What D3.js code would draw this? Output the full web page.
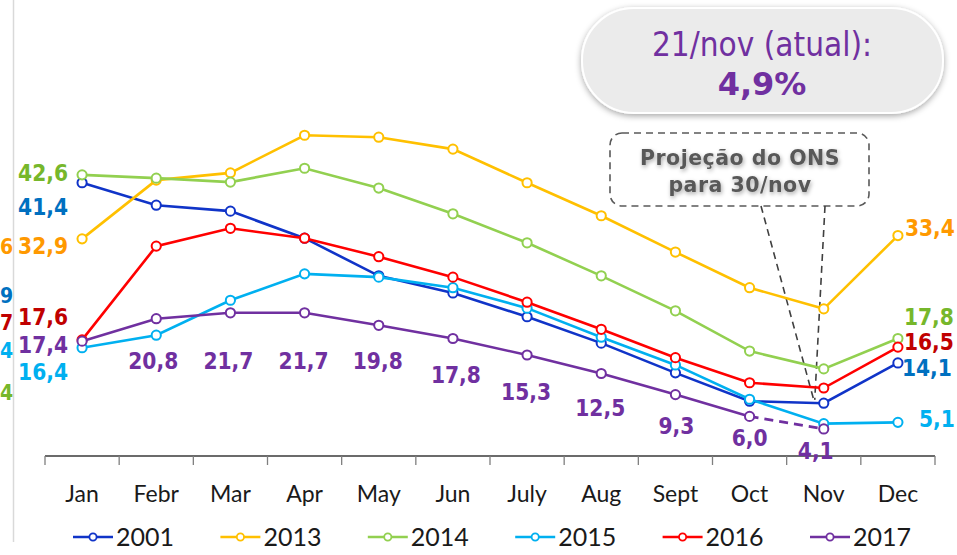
<!DOCTYPE html>
<html><head><meta charset="utf-8">
<script src="https://cdn.jsdelivr.net/npm/d3@7"></script>
<style>body{margin:0;background:#fff}svg{display:block}</style>
</head><body><svg id="c" width="957" height="555"></svg>
<script>
// ---- data ----
const months = ["Jan","Febr","Mar","Apr","May","Jun","July","Aug","Sept","Oct","Nov","Dec"];
const years = ["2001","2013","2014","2015","2016","2017"];
const v2001 = [41.4,38.0,37.1,33.0,27.3,24.7,21.1,17.1,12.6,8.3,8.0,14.1];
const v2013 = [32.9,41.8,42.9,48.6,48.3,46.5,41.4,36.4,30.9,25.5,22.3,33.4];
const v2014 = [42.6,42.1,41.5,43.6,40.6,36.7,32.3,27.3,22.0,15.9,13.2,17.8];
const v2015 = [16.4,18.3,23.6,27.6,27.1,25.5,22.4,18.0,13.8,8.6,4.9,5.1];
const v2016 = [17.6,31.8,34.5,33.0,30.2,27.1,23.3,19.2,14.9,11.1,10.3,16.5];
const v2017 = [17.4,20.8,21.7,21.7,19.8,17.8,15.3,12.5,9.3,6.0,4.1];
const currentLabel = "21/nov (atual):";
const currentValue = "4,9%";
const projectionText = ["Projeção do ONS","para 30/nov"];
const leftFragments = ["6","9","7","4","4"];

// ---- styles / layout ----
const lineColor = {"2001":"#1034c8","2013":"#ffc000","2014":"#92d050","2015":"#00b0f0","2016":"#ff0000","2017":"#7030a0"};
const labelColor = {"2001":"#0070c0","2013":"#ff9900","2014":"#76b72b","2015":"#00b0f0","2016":"#c00000","2017":"#7030a0"};
const series = {"2001":v2001,"2013":v2013,"2014":v2014,"2015":v2015,"2016":v2016,"2017":v2017};
const janDy = {"2014":-2,"2001":24,"2013":7,"2016":-23,"2017":4,"2015":24};
const decDy = {"2013":-8,"2014":-22,"2016":-5,"2001":5,"2015":-3};
const decDx = {"2013":7,"2014":6,"2016":6,"2001":4,"2015":21};
const purpleDy = [0,42,48,48,36,36,37,34,31,21,22];
const purpleDx = [0,-3,-2,-1,-1,3,-1,-1,1,0,-8];
const fragColors = ["#ff9900","#0070c0","#c00000","#00b0f0","#76b72b"];
const fragY = [246,295,322,350,392];
const labelFont = "DejaVu Sans Condensed, DejaVu Sans, Tahoma, sans-serif";

const fmt = v => d3.format(".1f")(v).replace(".", ",");
const svg = d3.select("#c");

const defs = svg.append("defs");
const sh = defs.append("filter").attr("id","sh").attr("x","-10%").attr("y","-20%").attr("width","120%").attr("height","150%");
sh.append("feDropShadow").attr("dx",0).attr("dy",2).attr("stdDeviation",3).attr("flood-color","#000").attr("flood-opacity",0.35);
const tsh = defs.append("filter").attr("id","tsh").attr("x","-10%").attr("y","-40%").attr("width","120%").attr("height","180%");
tsh.append("feDropShadow").attr("dx",1).attr("dy",2).attr("stdDeviation",2).attr("flood-color","#000").attr("flood-opacity",0.35);

const x = d3.scaleBand().domain(months).range([45,935]);
const cx = m => x(m) + x.bandwidth()/2;
const y = d3.scaleLinear().domain([0,50]).range([456,126]);

// left gray divider + fragments
svg.append("line").attr("x1",13.5).attr("x2",13.5).attr("y1",0).attr("y2",542).attr("stroke","#d9d9d9").attr("stroke-width",1.5);
svg.selectAll("text.frag").data(leftFragments).join("text").attr("class","frag")
  .attr("x",0).attr("y",(d,i)=>fragY[i]).attr("dy","0.36em").attr("text-anchor","start")
  .attr("font-family",labelFont).attr("font-stretch","condensed").attr("font-weight","bold").attr("font-size",21)
  .attr("fill",(d,i)=>fragColors[i]).text(d=>d);

// axis
const ax = svg.append("g");
ax.append("line").attr("x1",x.range()[0]).attr("x2",x.range()[1]).attr("y1",y(0)).attr("y2",y(0)).attr("stroke","#3a3a3a").attr("stroke-width",1.3);
const bounds = months.map(m=>x(m)).concat([x.range()[1]]);
ax.selectAll("line.tk").data(bounds).join("line").attr("class","tk")
  .attr("x1",d=>d).attr("x2",d=>d).attr("y1",y(0)).attr("y2",y(0)+9).attr("stroke","#7f7f7f").attr("stroke-width",1.3);
ax.selectAll("text.ml").data(months).join("text").attr("class","ml")
  .attr("x",d=>cx(d)).attr("y",502).attr("text-anchor","middle")
  .attr("font-family","Lato, Carlito, sans-serif").attr("font-size",23).attr("fill","#1a1a1a").text(d=>d);

// callouts
svg.append("rect").attr("x",582).attr("y",8).attr("width",361).attr("height",105).attr("rx",52).attr("ry",52)
  .attr("fill","#ebebeb").attr("stroke","#fff").attr("stroke-width",2).attr("filter","url(#sh)");
svg.append("text").attr("x",762).attr("y",56).attr("text-anchor","middle")
  .attr("font-family","DejaVu Sans Condensed, DejaVu Sans, sans-serif").attr("font-stretch","condensed").attr("font-size",33).attr("fill","#7030a0").text(currentLabel);
svg.append("text").attr("x",762).attr("y",95).attr("text-anchor","middle")
  .attr("font-family","DejaVu Sans, sans-serif").attr("font-weight","bold").attr("font-size",32).attr("fill","#7030a0").text(currentValue);

const box = {x0:610,x1:869,y0:133,y1:206};
const tip = [cx("Nov")-10, y(8.5)];
svg.append("rect").attr("x",box.x0).attr("y",box.y0).attr("width",box.x1-box.x0).attr("height",box.y1-box.y0).attr("rx",12)
  .attr("fill","#fff").attr("stroke","#595959").attr("stroke-width",1.6).attr("stroke-dasharray","7,5");
svg.append("line").attr("x1",761).attr("y1",box.y1).attr("x2",tip[0]).attr("y2",tip[1]).attr("stroke","#404040").attr("stroke-width",1.6).attr("stroke-dasharray","7,5");
svg.append("line").attr("x1",825).attr("y1",box.y1).attr("x2",tip[0]+1).attr("y2",tip[1]).attr("stroke","#404040").attr("stroke-width",1.6).attr("stroke-dasharray","7,5");
svg.selectAll("text.pj").data(projectionText).join("text").attr("class","pj")
  .attr("x",740).attr("y",(d,i)=>165+i*27).attr("text-anchor","middle")
  .attr("font-family","DejaVu Sans, Verdana, sans-serif").attr("font-weight","bold").attr("font-size",20.5)
  .attr("letter-spacing",0.5).attr("fill","#595959").attr("filter","url(#tsh)").text(d=>d);

// series
const line = d3.line().x(d=>cx(d.m)).y(d=>y(d.v));
years.forEach(yr=>{
  const pts = series[yr].map((v,i)=>({m:months[i],v}));
  const g = svg.append("g");
  if (yr === "2017") {
    g.append("path").attr("d",line(pts.slice(0,10))).attr("fill","none").attr("stroke",lineColor[yr]).attr("stroke-width",2.6);
    g.append("path").attr("d",line(pts.slice(9))).attr("fill","none").attr("stroke",lineColor[yr]).attr("stroke-width",2.6).attr("stroke-dasharray","9,6");
  } else {
    g.append("path").attr("d",line(pts)).attr("fill","none").attr("stroke",lineColor[yr]).attr("stroke-width",2.6);
  }
  g.selectAll("circle").data(pts).join("circle").attr("cx",d=>cx(d.m)).attr("cy",d=>y(d.v)).attr("r",4.6)
    .attr("fill","#fff").attr("stroke",lineColor[yr]).attr("stroke-width",2);
});

// labels
const lbl = (sel)=>sel.attr("font-family",labelFont).attr("font-stretch","condensed").attr("font-weight","bold").attr("font-size",22.5).attr("dy","0.36em");
years.forEach(yr=>{
  const v = series[yr][0];
  lbl(svg.append("text")).attr("x",68).attr("y",y(v)+janDy[yr]).attr("text-anchor","end").attr("fill",labelColor[yr]).text(fmt(v));
});
years.filter(yr=>yr!=="2017").forEach(yr=>{
  const v = series[yr][11];
  lbl(svg.append("text")).attr("x",cx("Dec")+decDx[yr]).attr("y",y(v)+decDy[yr]).attr("text-anchor","start").attr("fill",labelColor[yr]).text(fmt(v));
});
v2017.forEach((v,i)=>{
  if (i===0) return;
  lbl(svg.append("text")).attr("x",cx(months[i])+purpleDx[i]).attr("y",y(v)+purpleDy[i]).attr("text-anchor","middle").attr("fill",labelColor["2017"]).text(fmt(v));
});

// legend
const lg = svg.append("g");
years.forEach((yr,i)=>{
  const lx = 73 + i*147.4, ly = 537;
  lg.append("line").attr("x1",lx).attr("x2",lx+40).attr("y1",ly).attr("y2",ly).attr("stroke",lineColor[yr]).attr("stroke-width",2.6);
  lg.append("circle").attr("cx",lx+20).attr("cy",ly).attr("r",3.6).attr("fill","#fff").attr("stroke",lineColor[yr]).attr("stroke-width",1.8);
  lg.append("text").attr("x",lx+43).attr("y",ly+9).attr("font-family","Lato, Carlito, sans-serif").attr("font-size",25).attr("fill","#1a1a1a").text(yr);
});
</script></body></html>
